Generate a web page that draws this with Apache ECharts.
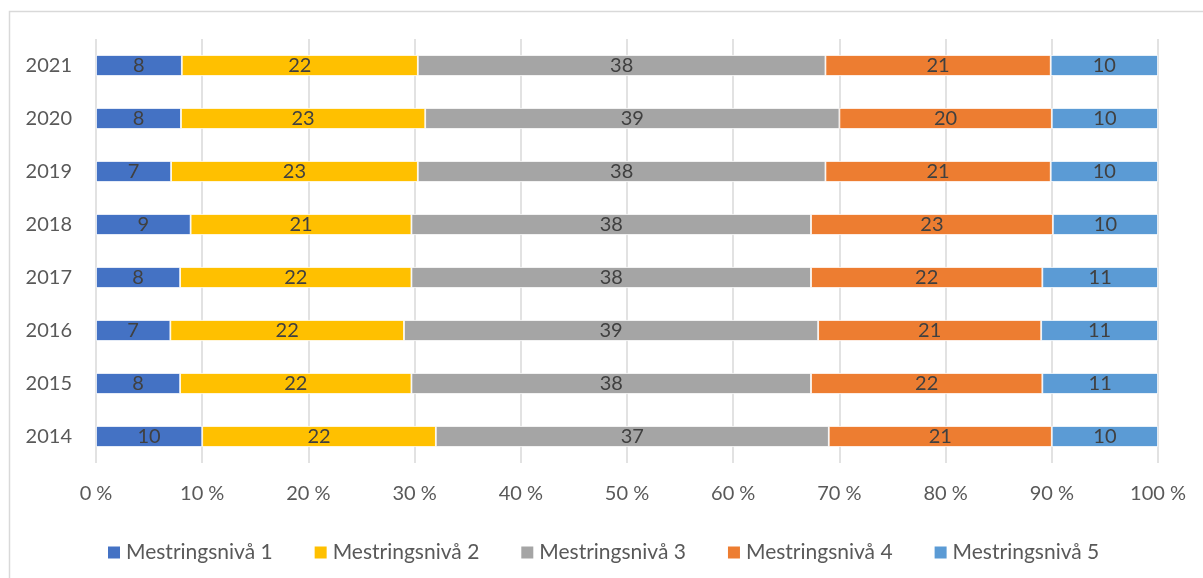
<!DOCTYPE html>
<html>
<head>
<meta charset="utf-8">
<script src="https://cdn.jsdelivr.net/npm/echarts@6/dist/echarts.min.js"></script>
<style>
  html, body { margin: 0; padding: 0; background: #fff; }
  #chart { width: 1203px; height: 578px; }
</style>
</head>
<body>
<div id="chart"></div>
<script>
// Years, bottom to top
const years = ['2014', '2015', '2016', '2017', '2018', '2019', '2020', '2021'];
const seriesNames = ['Mestringsnivå 1', 'Mestringsnivå 2', 'Mestringsnivå 3', 'Mestringsnivå 4', 'Mestringsnivå 5'];
// Share of pupils per level (percent, as labelled)
const niva1 = [10, 8, 7, 8, 9, 7, 8, 8];
const niva2 = [22, 22, 22, 22, 21, 23, 23, 22];
const niva3 = [37, 38, 39, 38, 38, 38, 39, 38];
const niva4 = [21, 22, 21, 22, 23, 21, 20, 21];
const niva5 = [10, 11, 11, 11, 10, 10, 10, 10];
const xTicks = [0, 10, 20, 30, 40, 50, 60, 70, 80, 90, 100];

const levels = [niva1, niva2, niva3, niva4, niva5];
const colors = ['#4472C4', '#FFC000', '#A5A5A5', '#ED7D31', '#5B9BD5'];
const FONT = 'Lato';

// Each row is scaled to a 100 % stack; labels keep the stated values
const totals = years.map((_, i) => levels.reduce((s, arr) => s + arr[i], 0));

const chart = echarts.init(document.getElementById('chart'), null, { renderer: 'canvas' });

chart.setOption({
  animation: false,
  backgroundColor: '#ffffff',
  textStyle: { fontFamily: FONT },
  graphic: [{
    type: 'rect',
    left: 7, top: 9,
    shape: { width: 1220, height: 600 },
    style: { fill: 'none', stroke: '#D9D9D9', lineWidth: 1.5 },
    silent: true, z: -1
  }],
  grid: { left: 96, right: 45, top: 39, bottom: 115, containLabel: false },
  legend: {
    data: seriesNames,
    left: 101, top: 537,
    itemWidth: 14, itemHeight: 14, itemGap: 40,
    icon: 'rect',
    textStyle: { color: '#595959', fontSize: 21, fontFamily: FONT, padding: [0, 0, 0, 0] }
  },
  xAxis: {
    type: 'value',
    min: xTicks[0], max: xTicks[xTicks.length - 1], interval: 10,
    axisLine: { show: false },
    axisTick: { show: false },
    splitLine: { show: true, lineStyle: { color: '#D9D9D9', width: 1.5 } },
    axisLabel: { color: '#595959', fontSize: 20, margin: 21, formatter: v => v + ' %' }
  },
  yAxis: {
    type: 'category',
    data: years,
    axisLine: { show: false },
    axisTick: { show: false },
    axisLabel: { color: '#595959', fontSize: 20, margin: 24 }
  },
  series: levels.map((arr, k) => ({
    name: seriesNames[k],
    type: 'bar',
    stack: 'total',
    barWidth: 21,
    itemStyle: { color: colors[k], borderColor: '#ffffff', borderWidth: 0.8 },
    label: {
      show: true,
      position: 'inside',
      color: '#404040',
      fontSize: 20,
      fontFamily: FONT,
      formatter: p => String(arr[p.dataIndex])
    },
    data: arr.map((v, i) => v / totals[i] * 100)
  }))
});
</script>
</body>
</html>
